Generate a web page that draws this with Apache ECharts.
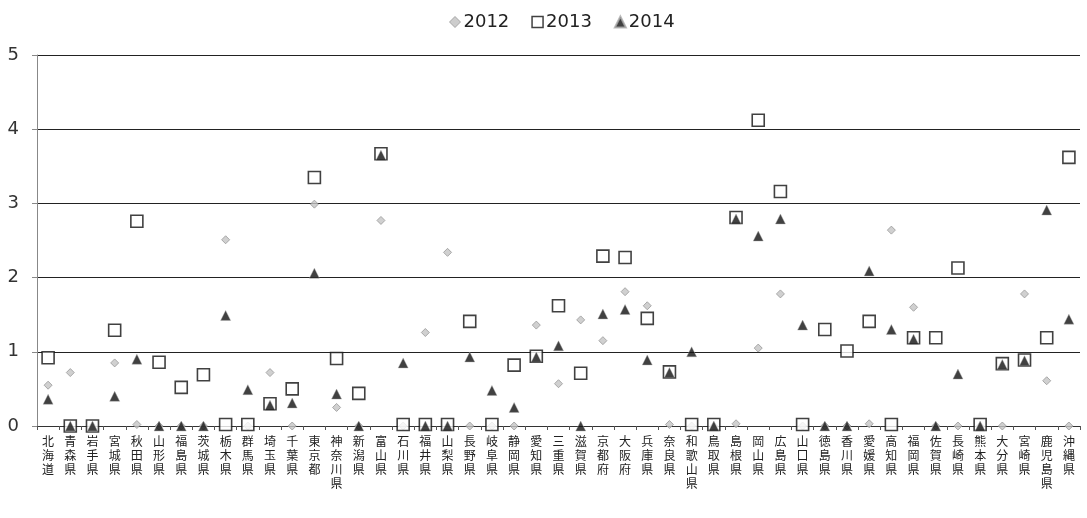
<!DOCTYPE html>
<html><head><meta charset="utf-8">
<script src="https://cdn.jsdelivr.net/npm/echarts@6/dist/echarts.min.js"></script>
<style>html,body{margin:0;padding:0;background:#fff}#c{width:1087px;height:518px}</style>
</head><body><div id="c"></div>
<script>
const categories = ["北海道","青森県","岩手県","宮城県","秋田県","山形県","福島県","茨城県","栃木県","群馬県","埼玉県","千葉県","東京都","神奈川県","新潟県","富山県","石川県","福井県","山梨県","長野県","岐阜県","静岡県","愛知県","三重県","滋賀県","京都府","大阪府","兵庫県","奈良県","和歌山県","鳥取県","島根県","岡山県","広島県","山口県","徳島県","香川県","愛媛県","高知県","福岡県","佐賀県","長崎県","熊本県","大分県","宮崎県","鹿児島県","沖縄県"];
const s2012 = [0.55,0.72,0,0.85,0.02,0,0,0,2.51,0,0.72,0,2.99,0.25,0,2.77,0,1.26,2.34,0,0,0,1.36,0.57,1.43,1.15,1.81,1.62,0.02,0,0,0.03,1.05,1.78,0,0,0,0.03,2.64,1.60,0,0,0,0,1.78,0.61,0];
const s2013 = [0.92,0,0,1.29,2.76,0.86,0.52,0.69,0.02,0.02,0.30,0.50,3.35,0.91,0.44,3.67,0.02,0.02,0.02,1.41,0.02,0.82,0.94,1.62,0.71,2.29,2.27,1.45,0.73,0.02,0.02,2.81,4.12,3.16,0.02,1.30,1.01,1.41,0.02,1.19,1.19,2.13,0.02,0.84,0.89,1.19,3.62];
const s2014 = [0.36,0,0,0.40,0.90,0,0,0,1.49,0.49,0.28,0.31,2.06,0.43,0,3.65,0.85,0,0,0.93,0.48,0.25,0.93,1.08,0,1.51,1.57,0.89,0.72,1.00,0,2.79,2.56,2.79,1.36,0,0,2.09,1.30,1.17,0,0.70,0,0.83,0.88,2.91,1.44];
const yTicks = [0,1,2,3,4,5];

const chart = echarts.init(document.getElementById('c'), null, {renderer:'canvas'});
chart.setOption({
  animation:false,
  backgroundColor:'#fff',
  legend:{
    top:8, left:444, itemGap:22, itemWidth:11, itemHeight:11,
    textStyle:{fontFamily:'DejaVu Sans', fontSize:18, color:'#222', padding:[0,0,0,-2]},
    data:[
      {name:'2012', icon:'diamond', itemStyle:{color:'#c0c0c0', borderColor:'#999', borderWidth:1}},
      {name:'2013', icon:'rect', itemStyle:{color:'#fff', borderColor:'#111', borderWidth:1.5}},
      {name:'2014', icon:'triangle', itemStyle:{color:'#111'}}
    ]
  },
  grid:{left:37, right:7, top:55, bottom:92, containLabel:false},
  xAxis:{
    type:'category', data:categories, boundaryGap:true,
    axisLine:{lineStyle:{color:'#333', width:1}},
    axisTick:{show:true, alignWithLabel:false, length:4, inside:false, lineStyle:{color:'#555'}},
    axisLabel:{interval:0, margin:8, fontFamily:'Noto Sans CJK JP', fontSize:12, lineHeight:14, color:'#222',
      verticalAlign:'top',
      formatter:v=>v.split('').join('\n')}
  },
  yAxis:{
    type:'value', min:0, max:5, interval:1,
    axisLine:{show:true, lineStyle:{color:'#888', width:1}},
    axisTick:{show:true, length:5, lineStyle:{color:'#888'}},
    axisLabel:{fontFamily:'DejaVu Sans', fontSize:18, color:'#333', margin:18,
      formatter:v=>yTicks.includes(v)?String(v):''},
    splitLine:{show:true, lineStyle:{color:'#222', width:1.2}}
  },
  series:[
    {name:'2012', type:'scatter', data:s2012, symbol:'diamond', symbolSize:8, z:2,
      itemStyle:{color:'#c4c4c4', borderColor:'#999', borderWidth:1}},
    {name:'2013', type:'scatter', data:s2013, symbol:'rect', symbolSize:12, z:3,
      itemStyle:{color:'#fff', borderColor:'#111', borderWidth:1.6}},
    {name:'2014', type:'scatter', data:s2014, symbol:'triangle', symbolSize:10, z:4,
      itemStyle:{color:'#111', borderColor:'#aaa', borderWidth:0.5}}
  ]
});
</script></body></html>
